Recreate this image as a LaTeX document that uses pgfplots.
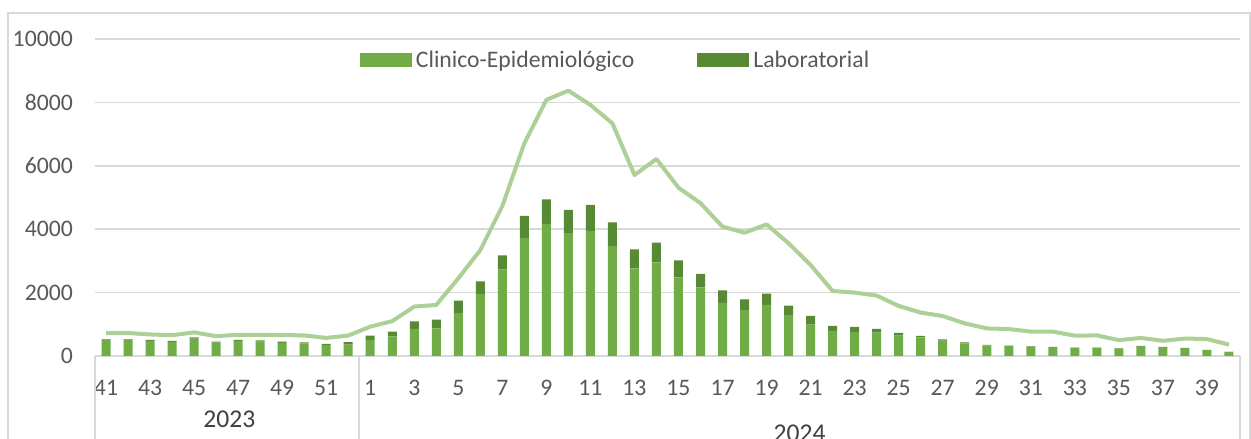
\documentclass[border=0pt]{standalone}
\usepackage{fontspec}
\setmainfont{Carlito}
\usepackage{pgfplots}
\pgfplotsset{compat=1.18}
\usepackage{pgfplotstable}
\definecolor{lightg}{RGB}{112,173,71}
\definecolor{darkg}{RGB}{88,138,54}
\definecolor{lineg}{RGB}{172,208,150}
\definecolor{gridg}{RGB}{217,217,217}
\definecolor{txt}{RGB}{89,89,89}
\definecolor{yeartxt}{RGB}{64,64,64}

\pgfplotstableread{
x L D T
0 515 20 720
1 515 20 725
2 480 25 680
3 445 30 655
4 550 40 745
5 425 25 625
6 480 25 670
7 455 40 670
8 415 35 660
9 400 30 650
10 345 35 570
11 360 80 645
12 505 135 925
13 620 147 1100
14 852 242 1560
15 873 274 1610
16 1356 390 2450
17 1956 399 3340
18 2724 452 4730
19 3723 694 6710
20 4165 778 8080
21 3880 726 8370
22 3944 820 7920
23 3470 747 7340
24 2766 599 5710
25 2955 620 6215
26 2482 536 5310
27 2166 421 4820
28 1672 400 4080
29 1451 337 3890
30 1609 358 4150
31 1294 294 3555
32 988 274 2870
33 789 158 2050
34 757 158 2000
35 736 116 1905
36 641 85 1580
37 589 42 1370
38 484 42 1260
39 400 30 1030
40 335 18 870
41 315 16 850
42 290 12 770
43 280 10 770
44 258 10 640
45 258 10 650
46 238 9 500
47 310 12 570
48 280 10 480
49 248 10 550
50 188 8 535
51 127 6 360
}\data

\begin{document}
\begin{tikzpicture}
\useasboundingbox (0,0) rectangle (1251pt,439pt);
\fill[white] (0,0) rectangle (1251pt,439pt);
\draw[gridg, line width=1.5pt] (8pt,-20pt) rectangle (1250pt,426pt);
\begin{axis}[
  at={(95pt,83pt)}, anchor=south west,
  scale only axis, width=1145pt, height=317pt,
  xmin=-0.5, xmax=51.5, ymin=0, ymax=10000,
  ybar stacked, bar width=9pt,
  axis line style={draw=none},
  major tick length=0pt,
  ytick={0,2000,4000,6000,8000,10000},
  ymajorgrids, grid style={gridg, line width=1.5pt},
  xtick={0,2,...,50},
  xticklabels={41,43,45,47,49,51,1,3,5,7,9,11,13,15,17,19,21,23,25,27,29,31,33,35,37,39},
  font=\fontsize{23.7}{28}\selectfont,
  tick label style={text=txt, font=\fontsize{23.7}{28}\selectfont, /pgf/number format/assume math mode=true},
  scaled y ticks=false,
  y tick label style={/pgf/number format/1000 sep={}},
  yticklabel style={inner sep=0pt, anchor=east, xshift=-22pt},
  xticklabel style={inner sep=0pt, anchor=center, yshift=-32pt},
  legend columns=2,
  legend style={at={(0.2314,0.9338)}, anchor=west, draw=none, fill=none,
    inner sep=0pt, outer sep=0pt,
    nodes={inner sep=0pt, anchor=west, text=txt, font=\fontsize{23.7}{28}\selectfont},
    /tikz/every odd column/.append style={column sep=4pt},
    /tikz/every even column/.append style={column sep=63pt}},
  clip=false,
]
\addplot[fill=lightg, draw=none, legend image code/.code={\fill[lightg] (0pt,-7pt) rectangle (52pt,7pt);}] table[x=x,y=L]{\data};
\addplot[fill=darkg, draw=none, legend image code/.code={\fill[darkg] (0pt,-7pt) rectangle (52pt,7pt);}] table[x=x,y=D]{\data};
\legend{Clinico-Epidemiológico, Laboratorial}
\draw[gridg, line width=1.5pt] (axis cs:-0.5,0) -- ++(0pt,-120pt);
\draw[gridg, line width=1.5pt] (axis cs:11.5,0) -- ++(0pt,-120pt);
\draw[gridg, line width=1.5pt] (axis cs:51.5,0) -- ++(0pt,-120pt);
\node[text=yeartxt, font=\fontsize{25.6}{30}\selectfont, inner sep=0pt, yshift=-63pt] at (axis cs:5.6,0) {2023};
\node[text=yeartxt, font=\fontsize{25.6}{30}\selectfont, inner sep=0pt, yshift=-77pt] at (axis cs:31.5,0) {2024};
\end{axis}
\begin{axis}[
  at={(95pt,83pt)}, anchor=south west,
  scale only axis, width=1145pt, height=317pt,
  xmin=-0.5, xmax=51.5, ymin=0, ymax=10000,
  hide axis, clip=false,
]
\addplot[lineg, line width=4pt, line join=round, no markers] table[x=x,y=T]{\data};
\end{axis}
\end{tikzpicture}
\end{document}
